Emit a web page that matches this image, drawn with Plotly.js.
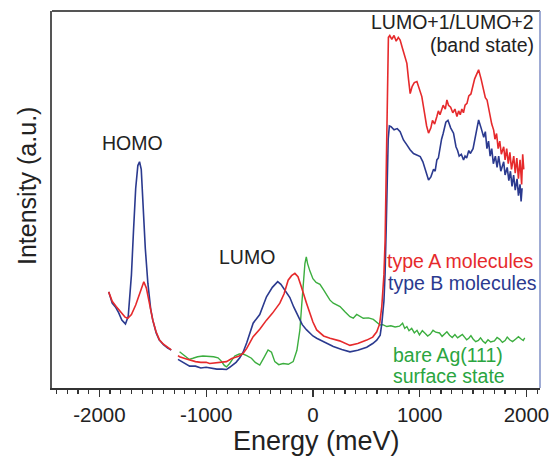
<!DOCTYPE html>
<html>
<head>
<meta charset="utf-8">
<script src="https://cdn.plot.ly/plotly-3.0.1.min.js"></script>
<style>html,body{margin:0;padding:0;background:#fff;}#chart{width:552px;height:456px;}</style>
</head>
<body>
<div id="chart"></div>
<script>
// type A molecules (red)
const redX = [-1913,-1880,-1843,-1800,-1760,-1734,-1700,-1660,-1620,-1584,-1560,-1530,-1500,-1470,-1437,-1400,-1360,-1327,-1300,
  -1264,-1249,-1200,-1150,-1100,-1050,-1000,-967,-920,-880,-840,-810,-760,-720,-690,-654,-620,-560,-498,-435,-380,-310,-270,-232,-200,-169,-140,-110,-91,-60,-28,0,35,100,160,250,347,420,504,560,598,625,645,665,676,690,700,707,
  720,739,760,780,800,817,840,860,880,895,911,930,950,974,995,1020,1045,1065,1083,1105,1120,1140,1161,1175,1190,1205,1220,1240,1255,1270,1290,1310,1330,1349,1365,1380,1395,1410,1425,1443,1460,1480,1500,1515,1530,1552,1575,1600,1615,1631,1645,1660,1675,1693,1705,1720,1735,1750,1765,1787,1800,1815,1830,1845,1860,1881,1895,1910,1925,1940,1955,1965,1975];
const redY = [25.5,23,21.6,20,18.8,18.5,19.5,22,25.5,28.2,26.5,22,18,15,12.7,11.6,10.8,10.1,null,
  8.6,8.3,7.8,7.3,7.0,6.8,6.8,6.5,6.6,6.8,6.8,7.0,7.8,8.3,8.5,9.2,10.5,13.6,15.6,18,19.8,22.5,25,28.6,29.8,30.4,29.5,27,25.5,22.5,19.8,17.5,15.4,13.8,13.2,12.5,11.3,11.8,12.7,13.5,14.9,17,21.6,30,39,60,80,93,
  93.5,92.5,93.5,92,93,92.3,90,88,86.1,82,78.1,80,81,81.3,79.5,77.3,73,69.5,67.6,69,71,70,72,73.5,72.5,74,75,74,76.4,75,74.5,73,74,72,73.5,72.5,74,73,75,75.5,77.5,78,80.5,82,83,84.4,82,79,77,76.4,74,72.5,70,68.4,66,67.5,63.5,65.5,62,64,60.5,63.5,59.5,62.5,58,61.5,57,61,55.5,60.5,54,62,58];

// type B molecules (blue)
const blueX = [-1913,-1880,-1850,-1820,-1790,-1756,-1730,-1700,-1680,-1660,-1640,-1624,-1608,-1590,-1570,-1546,-1520,-1500,-1468,-1440,-1400,-1360,-1327,-1300,
  -1264,-1230,-1200,-1155,-1100,-1050,-1000,-950,-900,-850,-810,-780,-750,-720,-685,-654,-620,-560,-498,-435,-380,-330,-300,-260,-216,-180,-138,-100,-59,0,35,100,191,270,347,420,504,560,598,630,645,665,676,686,695,705,716,
  732,760,790,817,848,880,910,942,975,1005,1030,1060,1083,1105,1130,1145,1161,1175,1190,1205,1220,1245,1265,1290,1317,1340,1355,1370,1390,1411,1425,1440,1460,1474,1500,1525,1552,1575,1600,1615,1630,1645,1660,1675,1690,1709,1725,1740,1760,1787,1800,1820,1835,1850,1865,1880,1895,1912,1925,1940,1950,1959];
const blueY = [25.5,22.5,21.5,20,18,17.0,19,30,42,53,59,60,58,48,37,27.8,21,18,14.6,12.8,11.5,10.6,10.1,null,
  7.6,7.0,6.5,5.8,5.8,5.3,5.5,5.2,5.0,5.0,4.9,5.5,6.2,6.8,8.0,9.5,12,17.2,19.5,24.2,26.7,28.2,27.5,25.8,24.0,21.5,19,16.8,15.4,13.8,13.2,12.2,11.0,10.2,9.6,10.0,10.8,11.8,12.7,14,17,23,30.4,42,55,66,69.5,
  69.3,68.5,68.8,68,65.8,64.5,63.2,62.2,61.8,61.4,60,57,55.2,56,58,57.5,60.5,61,64,66,67.5,70.5,71,69,67.6,64,63,61.5,62,60.5,61.5,61,63,62.2,63.5,67,71.1,69,66.5,68,63.5,65.5,61.5,63.5,59.5,61.5,58.5,61.5,57.5,60,56.5,58.5,55,57.5,53.5,56.5,52.5,55.5,51,54,49.5,53];

// bare Ag(111) surface state (green)
const greenX = [-1249,-1200,-1160,-1124,-1080,-1030,-980,-930,-889,-860,-830,-810,-780,-750,-732,-690,-654,-620,-576,-540,-498,-460,-420,-388,-357,-320,-279,-230,-185,-150,-122,-106,-91,-75,-62,-50,-28,0,30,66,100,160,191,254,300,347,378,410,472,520,566,629,654,692,730,770,811,840,860,880,900,925,950,975,998,1025,1050,1075,1100,1125,1150,1186,1210,1230,1255,1280,1305,1330,1355,1374,1400,1420,1440,1460,1480,1500,1525,1550,1570,1593,1615,1640,1665,1700,1725,1750,1775,1800,1820,1843,1870,1900,1925,1950,1970,1984];
const greenY = [9.6,8.5,7.6,7.9,8.3,8.5,8.4,8.3,8.0,7.2,6.0,5.6,6.5,8.0,8.5,9.0,9.0,8.6,7.9,6.8,6.1,8.0,10.1,9.5,7.0,6.2,6.5,6.3,7.0,10,15.4,21.6,27.8,33,34.8,33,31,29,28,27.5,26,23.3,22.5,21.6,20.2,18.9,18.5,19.5,18.5,18.6,18.2,16.7,16.8,16.3,16.5,16.2,16.4,17.2,15.8,16.3,15.2,15.8,14.6,15.3,14.1,15.2,14.5,13.8,14.3,15.3,14.8,14.6,13.7,14.3,14.9,14.0,13.4,14.2,13.3,13.7,14.2,13.5,12.8,13.2,13.9,13.0,12.3,12.6,13.3,12.4,11.9,12.8,12.2,12.5,13.4,12.9,12.1,12.6,13.5,12.8,12.3,13.0,13.6,13.0,12.6,13.3];

const tickVals = [-2000,-1000,0,1000,2000];
const tickText = ['-2000','-1000','0','1000','2000'];

const traces = [
  {x: greenX, y: greenY, mode:'lines', line:{color:'#3cae3f', width:1.4}, connectgaps:false, hoverinfo:'skip'},
  {x: blueX, y: blueY, mode:'lines', line:{color:'#2b3a8f', width:1.6}, connectgaps:false, hoverinfo:'skip'},
  {x: redX, y: redY, mode:'lines', line:{color:'#e62a2c', width:1.6}, connectgaps:false, hoverinfo:'skip'}
];

const font = 'Liberation Sans, Arial, sans-serif';
const ann = (text, x, y, color, xanchor) => ({text, x, y, xref:'x', yref:'y', showarrow:false, xanchor, yanchor:'middle', font:{family:font, size:19.5, color}});

const layout = {
  width:552, height:456,
  margin:{l:52, r:12, t:11, b:68},
  paper_bgcolor:'#fff', plot_bgcolor:'#fff',
  showlegend:false,
  font:{family:font, color:'#222'},
  xaxis:{
    range:[-2444,2127], showgrid:false, zeroline:false,
    showline:true, linecolor:'#333', linewidth:2,
    ticks:'outside', ticklen:7, tickwidth:1.3, tickcolor:'#333',
    tickmode:'array', tickvals:tickVals, ticktext:tickText,
    tickfont:{family:font, size:20.5, color:'#222'},
    minor:{tickmode:'linear', tick0:0, dtick:100, ticks:'outside', ticklen:4, tickwidth:1.2, tickcolor:'#333'},
    title:{text:''}
  },
  yaxis:{
    range:[0,100], showgrid:false, zeroline:false,
    showline:true, linecolor:'#555', linewidth:2,
    showticklabels:false, ticks:'',
    title:{text:''}
  },
  shapes:[
    {type:'line', xref:'paper', yref:'paper', x0:0, x1:1, y0:1, y1:1, line:{color:'#555', width:2}},
    {type:'line', xref:'paper', yref:'paper', x0:1, x1:1, y0:0, y1:1, line:{color:'#7f8fc6', width:1.5}}
  ],
  annotations:[
    {text:'Energy (meV)', xref:'paper', yref:'paper', x:(316-52)/488, y:(388-441)/377, xanchor:'center', yanchor:'middle', showarrow:false, font:{family:font, size:27, color:'#222'}},
    {text:'Intensity (a.u.)', xref:'paper', yref:'paper', x:(27-52)/488, y:(388-186)/377, xanchor:'center', yanchor:'middle', textangle:-90, showarrow:false, font:{family:font, size:25, color:'#222'}},
    ann('HOMO', -1690, 65, '#222', 'center'),
    ann('LUMO', -620, 34.7, '#222', 'center'),
    ann('LUMO+1/LUMO+2', 2085, 97.1, '#222', 'right'),
    ann('(band state)', 2085, 91, '#222', 'right'),
    ann('type A molecules', 2094, 33.7, '#e62a2c', 'right'),
    ann('type B molecules', 2122, 27.9, '#2b3a8f', 'right'),
    ann('bare Ag(111)', 732, 8.8, '#2aa540', 'left'),
    ann('surface state', 732, 3.2, '#2aa540', 'left')
  ]
};

Plotly.newPlot('chart', traces, layout, {displayModeBar:false, staticPlot:true});
</script>
</body>
</html>
